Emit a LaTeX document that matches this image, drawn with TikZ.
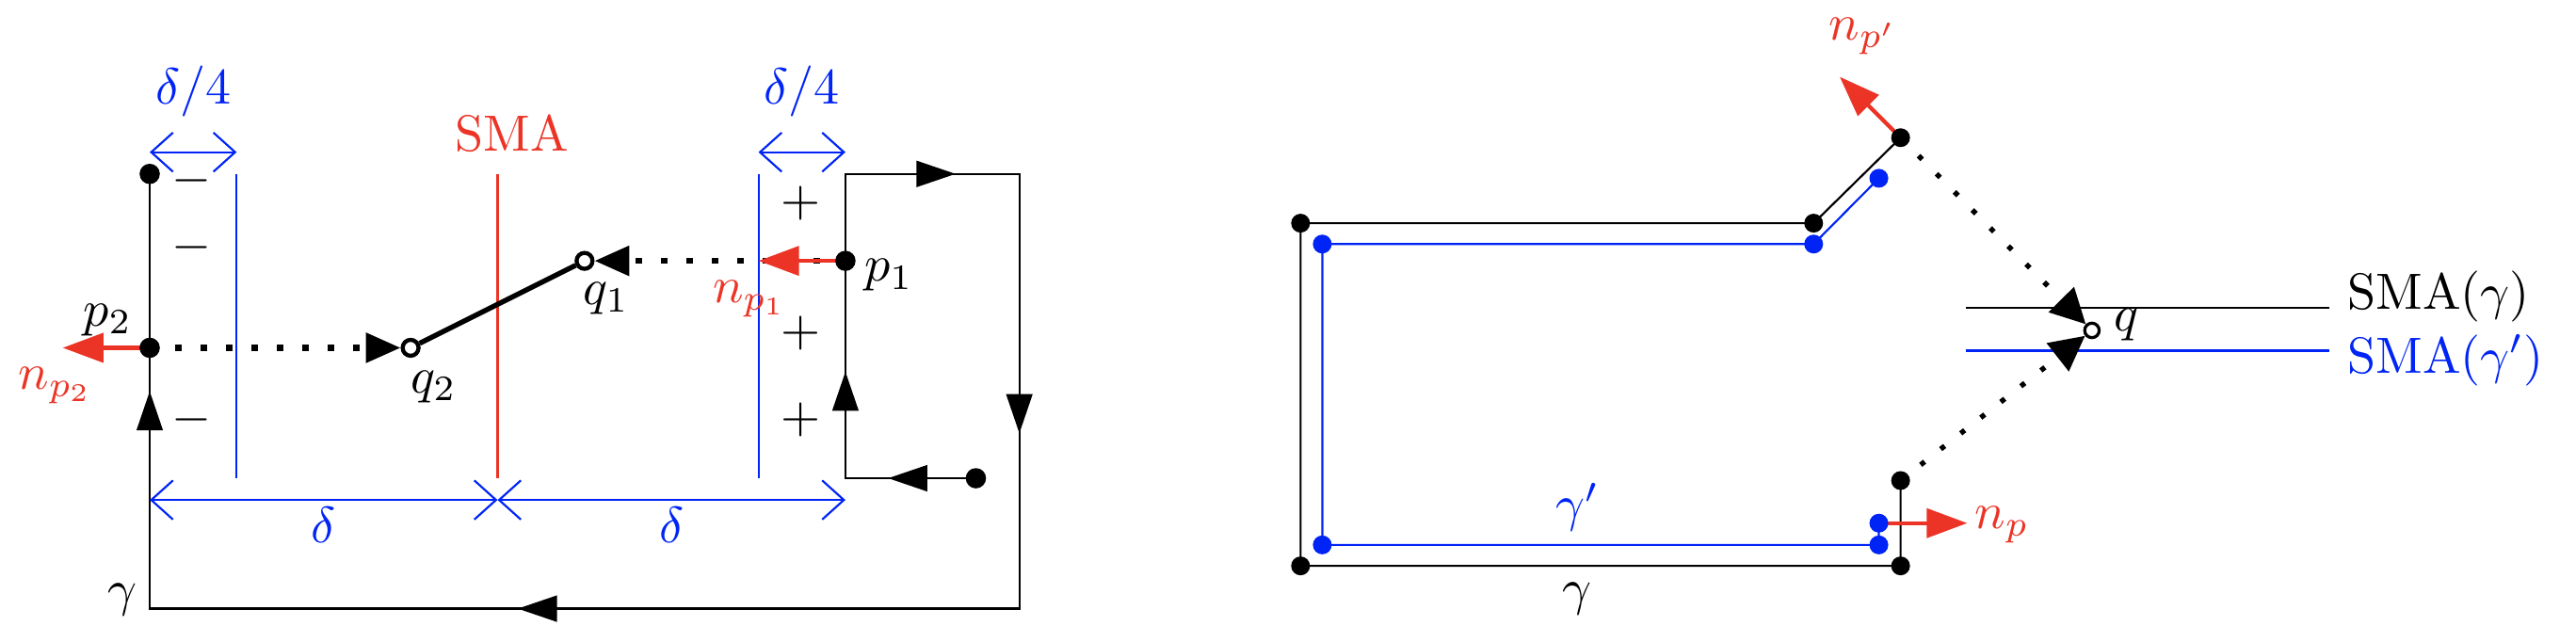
\documentclass[tikz,border=0pt]{standalone}
\usepackage{amsmath}
\usepackage{amssymb}
\usepackage{xcolor}
\usetikzlibrary{arrows.meta}
\usetikzlibrary{positioning}
\usetikzlibrary{decorations.markings}

\definecolor{smared}{RGB}{236,52,38}
\definecolor{smablue}{RGB}{0,36,245}

\tikzset{
    flowtip/.tip={Triangle[length=2.7mm, width=1.8mm]},
    projtip/.tip={Triangle[length=2.4mm, width=2mm]},
    normtip/.tip={Triangle[length=2.8mm, width=2mm]},
    dimtip/.tip={Straight Barb[length=1.5mm, width=2.7mm]},
    gammaline/.style={line width=0.4pt, black},
    flow/.style={postaction={decorate, decoration={markings,
        mark=at position 0.605cm with {\arrow{flowtip}},
        mark=at position 1.635cm with {\arrow{flowtip}},
        mark=at position 3.76cm with {\arrow{flowtip}},
        mark=at position 5.99cm with {\arrow{flowtip}},
        mark=at position 10.66cm with {\arrow{flowtip}},
        mark=at position 14.7cm with {\arrow{flowtip}}}}},
    dimline/.style={smablue, line width=0.4pt, dimtip-dimtip},
    normalvec/.style={smared, line width=0.8pt, -normtip},
    proj/.style={line width=1.2pt, dash pattern=on 1.2pt off 3.8pt, -projtip},
    projb/.style={line width=1pt, dash pattern=on 1pt off 4pt, -{Triangle[length=2.4mm, width=2.4mm]}},
    foot/.style={circle, draw, fill=white, line width=0.8pt, inner sep=0pt, minimum size=1.1mm},
}

\begin{document}
\begin{tikzpicture}
    \useasboundingbox (-1.033,-0.229) rectangle (16.74,4.20);

    % left: gamma with the two parallel pieces
    \coordinate (A) at (5.7,0.9);
    \coordinate (B) at (4.8,0.9);
    \coordinate (p1) at (4.8,2.4);
    \coordinate (C) at (4.8,3);
    \coordinate (D) at (6,3);
    \coordinate (E) at (6,0);
    \coordinate (F) at (0,0);
    \coordinate (p2) at (0,1.8);
    \coordinate (G) at (0,3);

    \draw[gammaline, flow](A)--(B)--(C)--(D)--(E)--(F)--(G);

    \draw[smablue](0.6,0.9)--(0.6,3);
    \draw[smablue](4.2,0.9)--(4.2,3);
    \draw[smared](2.4,0.9)--(2.4,3);
    \draw[dimline](0,3.15)--(0.6,3.15);
    \draw[dimline](4.2,3.15)--(4.8,3.15);
    \draw[dimline](0,0.75)--(2.4,0.75);
    \draw[dimline](2.4,0.75)--(4.8,0.75);

    \node[smablue] (dq1) at (0.3,3.57) {$\delta/4$};
    \node[smablue] (dq2) at (4.5,3.57) {$\delta/4$};
    \node[smablue] (d1) at (1.2,0.58) {$\delta$};
    \node[smablue] (d2) at (3.6,0.58) {$\delta$};
    \node[smared] (sma) at (2.5,3.28) {SMA};

    \node (m1) at (0.29,2.95) {$-$};
    \node (m2) at (0.29,2.49) {$-$};
    \node (m3) at (0.29,1.30) {$-$};
    \node (s1) at (4.49,2.80) {$+$};
    \node (s2) at (4.49,1.90) {$+$};
    \node (s3) at (4.49,1.30) {$+$};

    \node[foot] (q1) at (3,2.4) {};
    \node[foot] (q2) at (1.8,1.8) {};
    \draw[line width=1pt](q2)--(q1);
    \draw[proj](p1)--(q1);
    \draw[proj](p2)--(q2);

    \coordinate (np1) at (4.2,2.4);
    \coordinate (np2) at (-0.6,1.8);
    \draw[normalvec](p1)--(np1);
    \draw[normalvec](p2)--(np2);

    \fill[black](G)circle(0.07) (p2)circle(0.07) (p1)circle(0.07) (A)circle(0.07);

    \node (lp1) at (5.10,2.30) {$p_1$};
    \node (lp2) at (-0.29,1.99) {$p_2$};
    \node[smared] (lnp1) at (4.14,2.14) {$n_{p_1}$};
    \node[smared] (lnp2) at (-0.65,1.54) {$n_{p_2}$};
    \node (lq1) at (3.15,2.14) {$q_1$};
    \node (lq2) at (1.96,1.53) {$q_2$};
    \node (lgam) at (-0.19,0.06) {$\gamma$};

    % right: gamma, gamma' and their SMA
    \coordinate (pp) at (12.08,3.25);
    \coordinate (c0) at (11.48,2.66);
    \coordinate (a0) at (7.94,2.66);
    \coordinate (b0) at (7.94,0.295);
    \coordinate (e0) at (12.08,0.295);
    \coordinate (r) at (12.08,0.884);
    \draw[gammaline](pp)--(c0)--(a0)--(b0)--(e0)--(r);

    \coordinate (t1) at (11.93,2.97);
    \coordinate (c1) at (11.48,2.516);
    \coordinate (a1) at (8.09,2.516);
    \coordinate (b1) at (8.09,0.44);
    \coordinate (e1) at (11.93,0.44);
    \coordinate (p) at (11.93,0.59);
    \draw[smablue, line width=0.4pt](t1)--(c1)--(a1)--(b1)--(e1)--(p);

    \draw(12.53,2.075)--(15.04,2.075);
    \draw[smablue](12.53,1.78)--(15.04,1.78);
    \node[right] (smag) at (15.04,2.156) {SMA$(\gamma)$};
    \node[right, smablue] (smagp) at (15.04,1.715) {SMA$(\gamma')$};

    \node[foot, minimum size=1mm, line width=0.6pt] (q) at (13.40,1.92) {};
    \draw[projb](pp)--(q);
    \draw[projb](r)--(q);

    \coordinate (npp) at (11.66,3.67);
    \coordinate (np) at (12.54,0.59);
    \draw[normalvec](pp)--(npp);
    \draw[normalvec](p)--(np);

    \fill[black](pp)circle(0.065) (c0)circle(0.065) (a0)circle(0.065)
        (b0)circle(0.065) (e0)circle(0.065) (r)circle(0.065);
    \fill[smablue](t1)circle(0.065) (c1)circle(0.065) (a1)circle(0.065)
        (b1)circle(0.065) (e1)circle(0.065) (p)circle(0.065);

    \node (lq) at (13.64,1.96) {$q$};
    \node[smared] (lnpp) at (11.82,3.95) {$n_{p'}$};
    \node[smared] (lnp) at (12.78,0.58) {$n_p$};
    \node[smablue] (lgp) at (9.85,0.70) {$\gamma'$};
    \node (lg) at (9.85,0.07) {$\gamma$};
\end{tikzpicture}
\end{document}
